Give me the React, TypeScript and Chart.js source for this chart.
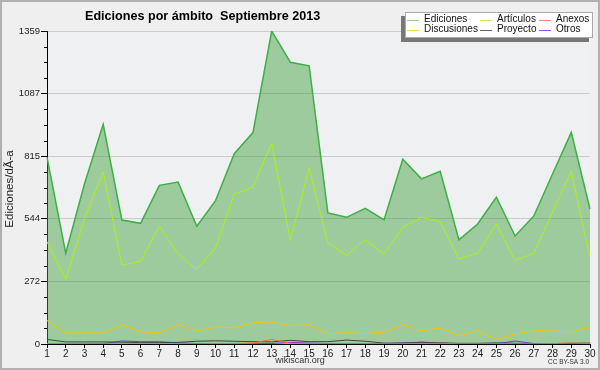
import React, { useEffect, useRef } from "react";
import { Chart, registerables } from "chart.js";
Chart.register(...registerables);

const days = ["1","2","3","4","5","6","7","8","9","10","11","12","13","14","15","16","17","18","19","20","21","22","23","24","25","26","27","28","29","30"];
const ediciones = [811, 394, 695, 954, 538, 524, 689, 703, 511, 622, 826, 918, 1359, 1223, 1208, 569, 550, 589, 539, 802, 717, 750, 452, 521, 637, 469, 556, 738, 919, 586];
const articulos = [444, 281, 543, 748, 342, 359, 512, 391, 324, 418, 651, 681, 872, 449, 766, 440, 385, 454, 389, 507, 550, 530, 369, 394, 520, 363, 394, 572, 750, 372];
const anexos = [2, 1, 1, 1, 1, 1, 1, 1, 1, 2, 2, 4, 20, 3, 2, 1, 1, 1, 1, 1, 2, 3, 1, 1, 1, 1, 1, 2, 4, 2];
const discusiones = [102, 48, 48, 48, 84, 54, 48, 84, 57, 74, 70, 92, 96, 80, 83, 45, 49, 45, 52, 84, 57, 70, 36, 58, 20, 44, 57, 57, 52, 74];
const proyecto = [20, 9, 9, 9, 8, 6, 6, 7, 12, 14, 12, 10, 9, 16, 10, 10, 17, 12, 4, 4, 8, 5, 3, 3, 5, 3, 2, 2, 3, 4];
const otros = [0, 0, 0, 1, 13, 10, 10, 5, 2, 1, 1, 1, 2, 7, 4, 2, 1, 1, 1, 5, 7, 4, 1, 1, 1, 13, 2, 1, 1, 1];

const yMax = 1359;
const yMajorTicks = [0, 271.8, 543.6, 815.4, 1087.2, 1359];
const titleText = "Ediciones por ámbito  Septiembre 2013";
const yTitle = "Ediciones/dÃ-a";
const footerText = "wikiscan.org";
const licenseText = "CC BY-SA 3.0";

const FONT = "'Liberation Sans', Arial, sans-serif";

const decorPlugin = {
  id: "decor",
  beforeDraw(chart: any) {
    const { ctx, width, height, chartArea } = chart;
    ctx.save();
    ctx.fillStyle = "#efefef";
    ctx.fillRect(0, 0, width, height);
    ctx.fillStyle = "#eef0f1";
    ctx.fillRect(chartArea.left, chartArea.top, chartArea.right - chartArea.left, chartArea.bottom - chartArea.top);
    ctx.restore();
  },
  afterDraw(chart: any) {
    const { ctx, width, height, chartArea } = chart;
    const ys = chart.scales.y;
    ctx.save();
    // minor ticks
    ctx.strokeStyle = "#000";
    ctx.lineWidth = 1;
    ctx.beginPath();
    for (let i = 0; i < yMajorTicks.length - 1; i++) {
      for (let j = 1; j <= 3; j++) {
        const v = yMajorTicks[i] + ((yMajorTicks[i + 1] - yMajorTicks[i]) * j) / 4;
        const py = Math.round(ys.getPixelForValue(v)) + 0.5;
        ctx.moveTo(chartArea.left - 3, py);
        ctx.lineTo(chartArea.left, py);
      }
    }
    ctx.stroke();

    // title
    ctx.fillStyle = "#000";
    ctx.font = `bold 12.6px ${FONT}`;
    ctx.textAlign = "left";
    ctx.textBaseline = "middle";
    ctx.fillText(titleText, 85, 17);

    // y title
    ctx.save();
    ctx.translate(10, 189);
    ctx.rotate(-Math.PI / 2);
    ctx.font = `11.5px ${FONT}`;
    ctx.textAlign = "center";
    ctx.textBaseline = "middle";
    ctx.fillStyle = "#222";
    ctx.fillText(yTitle, 0, 0);
    ctx.restore();

    // footer
    ctx.font = `9px ${FONT}`;
    ctx.fillStyle = "#333";
    ctx.textAlign = "center";
    ctx.textBaseline = "middle";
    ctx.fillText(footerText, 300, 361);
    ctx.font = `6.5px ${FONT}`;
    ctx.textAlign = "right";
    ctx.fillText(licenseText, 589, 362);

    // legend
    const bx = 405, by = 12, bw = 188, bh = 26;
    ctx.fillStyle = "#777";
    ctx.fillRect(bx - 4, by + 4, bw, bh);
    ctx.fillStyle = "#fff";
    ctx.fillRect(bx, by, bw, bh);
    ctx.strokeStyle = "#aaa";
    ctx.lineWidth = 1;
    ctx.strokeRect(bx + 0.5, by + 0.5, bw - 1, bh - 1);
    const colX = [407, 480, 539];
    const rowY = [19.5, 29.5];
    ctx.font = `10px ${FONT}`;
    ctx.textAlign = "left";
    ctx.textBaseline = "middle";
    chart.data.datasets.forEach((ds: any, i: number) => {
      const c = i % 3, r = Math.floor(i / 3);
      const lx = colX[c], ly = rowY[r];
      ctx.strokeStyle = ds.legendColor || ds.borderColor;
      ctx.beginPath();
      ctx.moveTo(lx, Math.round(ly) + 0.5);
      ctx.lineTo(lx + 12, Math.round(ly) + 0.5);
      ctx.stroke();
      ctx.fillStyle = "#111";
      ctx.fillText(ds.label, lx + 17, ly);
    });

    // outer border
    ctx.strokeStyle = "#b0b0b0";
    ctx.lineWidth = 2;
    ctx.strokeRect(1, 1, width - 2, height - 2);
    ctx.restore();
  },
};

export default function App() {
  const ref = useRef<HTMLCanvasElement>(null);
  useEffect(() => {
    if (!ref.current) return;
    const mk = (label: string, data: number[], color: string, extra: any = {}) => ({
      label,
      data,
      borderColor: color,
      borderWidth: 1,
      pointRadius: 0,
      tension: 0,
      fill: false,
      order: 0,
      ...extra,
    });
    const chart = new Chart(ref.current, {
      type: "line",
      data: {
        labels: days,
        datasets: [
          mk("Ediciones", ediciones, "#3cb043", {
            borderWidth: 1.5,
            fill: "origin",
            backgroundColor: "rgba(60,160,60,0.46)",
            order: 10,
            legendColor: "#8fd08f",
          }),
          mk("Artículos", articulos, "#b0f010", { legendColor: "#c8f060" }),
          mk("Anexos", anexos, "#ff6a30", { legendColor: "#f09070" }),
          mk("Discusiones", discusiones, "#f5c400", { legendColor: "#f5d050" }),
          mk("Proyecto", proyecto, "#444444", { legendColor: "#666666" }),
          mk("Otros", otros, "#8a2be2", { legendColor: "#9a50f0" }),
        ],
      },
      options: {
        animation: false,
        responsive: false,
        events: [],
        layout: { padding: { left: 0, top: 31, right: 10, bottom: 0 } },
        plugins: { legend: { display: false }, tooltip: { enabled: false }, title: { display: false } },
        scales: {
          x: {
            type: "category",
            offset: false,
            grid: { drawOnChartArea: false, drawTicks: true, tickLength: 4, tickColor: "#000" },
            border: { color: "#000", width: 1 },
            ticks: { font: { family: FONT, size: 10 }, color: "#222", padding: 0, maxRotation: 0, autoSkip: false },
            afterFit: (s: any) => { s.height = 26; },
          },
          y: {
            min: 0,
            max: yMax,
            afterBuildTicks: (s: any) => { s.ticks = yMajorTicks.map((v) => ({ value: v })); },
            ticks: {
              callback: (v: any) => String(Math.round(Number(v))),
              font: { family: FONT, size: 9.5 },
              color: "#222",
              padding: 1,
            },
            grid: { color: "#cccccc", tickColor: "#000", tickLength: 6 },
            border: { color: "#000", width: 1 },
            afterFit: (s: any) => { s.width = 47; },
          },
        },
      },
      plugins: [decorPlugin],
    } as any);
    return () => chart.destroy();
  }, []);
  return (
    <div style={{ position: "fixed", left: 0, top: 0, width: 600, height: 370 }}>
      <canvas ref={ref} width={600} height={370} />
    </div>
  );
}
